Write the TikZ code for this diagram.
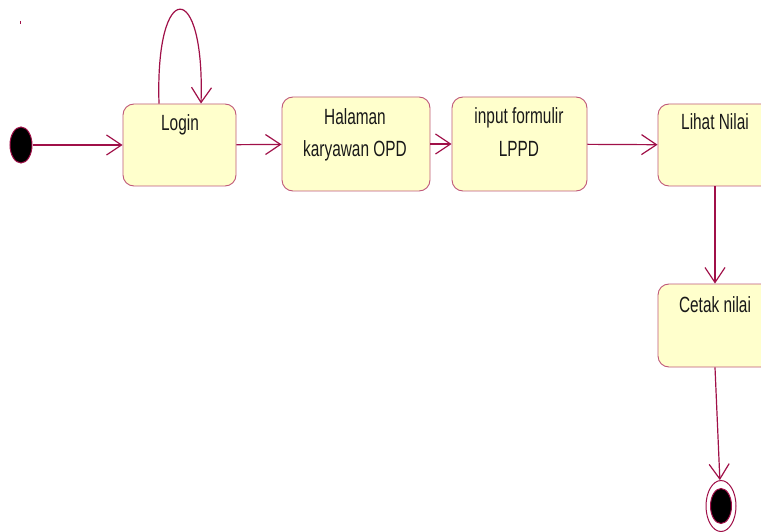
\documentclass[tikz,border=0pt]{standalone}
\usepackage{fontspec}
\setmainfont{Liberation Sans}[FakeStretch=0.70]
\usetikzlibrary{arrows.meta,shapes.geometric}
\definecolor{linec}{HTML}{A01048}
\definecolor{boxline}{HTML}{C05878}
\definecolor{boxfill}{HTML}{FFFFCC}
\tikzset{
  statebox/.style={draw=boxline, fill=boxfill, rounded corners=11pt, line width=0.9pt, inner sep=0pt},
  lbl/.style={anchor=base, inner sep=0pt, font=\fontsize{22}{26}\selectfont, text=black!90},
  tr/.style={draw=linec, line width=1.2pt, -{Straight Barb[length=15pt,width=20pt,line width=1.2pt]}},
  startdot/.style={ellipse, fill=black, draw=linec, line width=1pt, inner sep=0pt, minimum width=22pt, minimum height=36pt},
}
\begin{document}
\begin{tikzpicture}[x=1pt,y=-1pt]
\clip (0,0) rectangle (761,532);
\fill[white] (0,0) rectangle (761,532);
% tiny mark
\coordinate (m1) at (20,21);
\coordinate (m2) at (20,24);
\draw[linec, line width=1pt] (m1) -- (m2);
% initial
\node[startdot] (init) at (21,145) {};
% states
\node[statebox, minimum width=113pt, minimum height=82pt] (login) at (179.5,145) {};
\node[lbl] (tlogin) at (180,131) {Login};
\node[statebox, minimum width=148pt, minimum height=94pt] (hal) at (356,144) {};
\node[lbl] (thal1) at (355,125) {Halaman};
\node[lbl] (thal2) at (355,157) {karyawan OPD};
\node[statebox, minimum width=135pt, minimum height=94pt] (inp) at (519.5,144) {};
\node[lbl] (tinp1) at (519,124) {input formulir};
\node[lbl] (tinp2) at (519,157) {LPPD};
\node[statebox, minimum width=114pt, minimum height=82pt] (lihat) at (715,145) {};
\node[lbl] (tlihat) at (715,130) {Lihat Nilai};
\node[statebox, minimum width=114pt, minimum height=83pt] (cetak) at (715,325.5) {};
\node[lbl] (tcetak) at (715,312) {Cetak nilai};
% final
\node[ellipse, draw=linec, fill=white, line width=1pt, inner sep=0pt, minimum width=30pt, minimum height=51pt] (final) at (721,506) {};
\node[startdot, minimum width=21pt, minimum height=35pt] (finaldot) at (final.center) {};
% transitions
\draw[tr] (init) -- (login);
\draw[tr] (login) -- (hal);
\draw[tr] (hal) -- (inp);
\draw[tr] (inp) -- (lihat);
\draw[tr] (lihat) -- (cetak);
\draw[tr] (cetak.south) -- (final);
\draw[tr] ([xshift=-20.5pt]login.north) .. controls (155,-22) and (205,-22) .. ([xshift=21.5pt]login.north);
\end{tikzpicture}
\end{document}
